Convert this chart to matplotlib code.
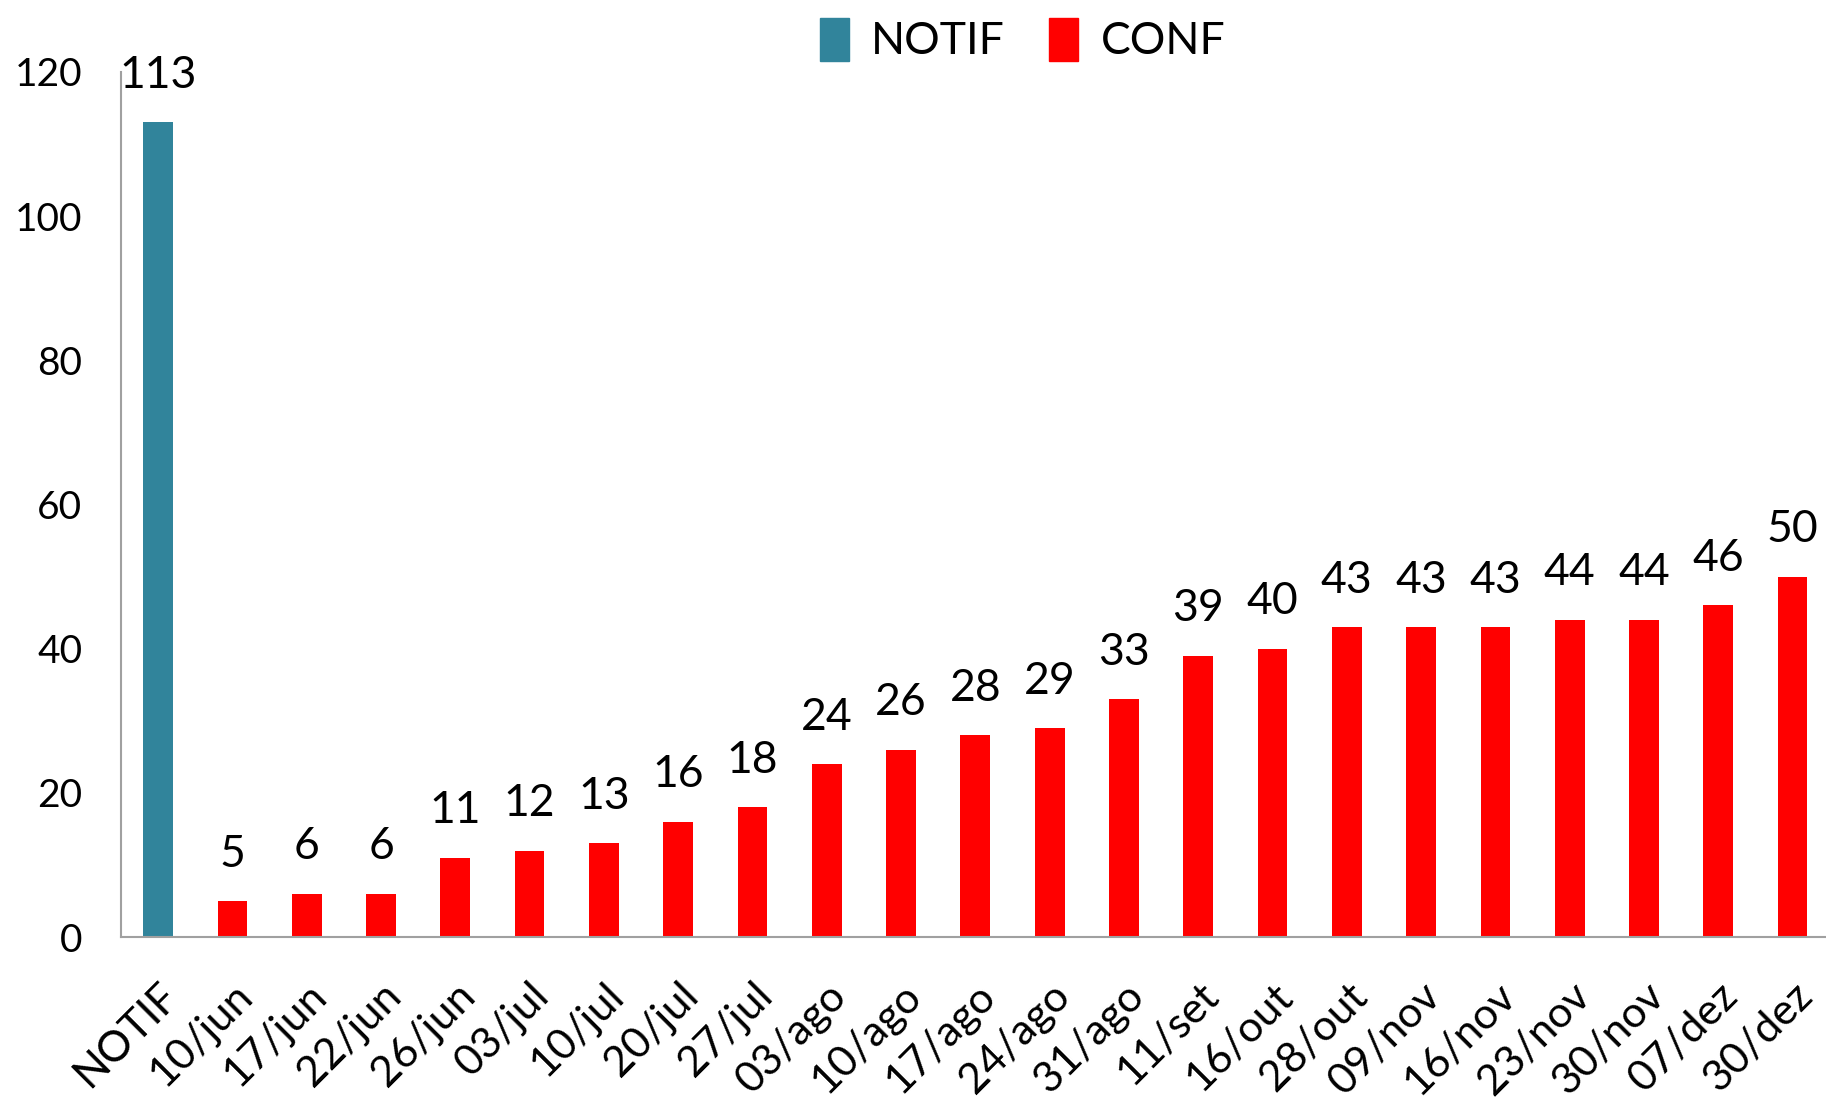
import matplotlib
matplotlib.use("Agg")
import matplotlib.pyplot as plt
from matplotlib.patches import Patch

plt.rcParams['font.family'] = ['Lato', 'DejaVu Sans']

categories = ["NOTIF", "10/jun", "17/jun", "22/jun", "26/jun", "03/jul", "10/jul",
              "20/jul", "27/jul", "03/ago", "10/ago", "17/ago", "24/ago", "31/ago",
              "11/set", "16/out", "28/out", "09/nov", "16/nov", "23/nov", "30/nov",
              "07/dez", "30/dez"]
values = [113, 5, 6, 6, 11, 12, 13, 16, 18, 24, 26, 28, 29, 33, 39, 40, 43, 43, 43,
          44, 44, 46, 50]
series = ["NOTIF"] + ["CONF"] * 22
colors_map = {"NOTIF": "#31849B", "CONF": "#FF0000"}
yticks = [0, 20, 40, 60, 80, 100, 120]

fig = plt.figure(figsize=(18.26, 11.08), dpi=100)
ax = fig.add_axes([121/1826, 1 - 937/1108, 1 - 121/1826, (937 - 72)/1108])

x = list(range(len(categories)))
cols = [colors_map[s] for s in series]
bars = ax.bar(x, values, width=0.4, color=cols)

for xi, v in zip(x, values):
    ax.annotate(str(v), (xi, v), xytext=(0, 19), textcoords="offset points",
                ha="center", va="bottom", fontsize=32, clip_on=False)

ax.set_xlim(-0.5, 22.45)
ax.set_ylim(0, 120)
ax.set_yticks(yticks)
ax.set_yticklabels([str(t) for t in yticks], fontsize=28)
ax.set_xticks(x)
ax.set_xticklabels(categories, rotation=45, ha="right", rotation_mode="anchor",
                   fontsize=31)
ax.tick_params(axis="x", length=0, pad=28)
ax.tick_params(axis="y", length=0, pad=28)
for side in ["top", "right"]:
    ax.spines[side].set_visible(False)
for side in ["left", "bottom"]:
    ax.spines[side].set_color("#A0A0A0")
    ax.spines[side].set_linewidth(1.5)

handles = [Patch(color=colors_map["NOTIF"], label="NOTIF"),
           Patch(color=colors_map["CONF"], label="CONF")]
fig.legend(handles=handles, loc="upper center", bbox_to_anchor=(0.56, 1.02),
           ncol=2, frameon=False, fontsize=32, handlelength=0.65, handleheight=1.1,
           columnspacing=1.0, handletextpad=0.5)

fig.savefig("out.png", dpi=100)
